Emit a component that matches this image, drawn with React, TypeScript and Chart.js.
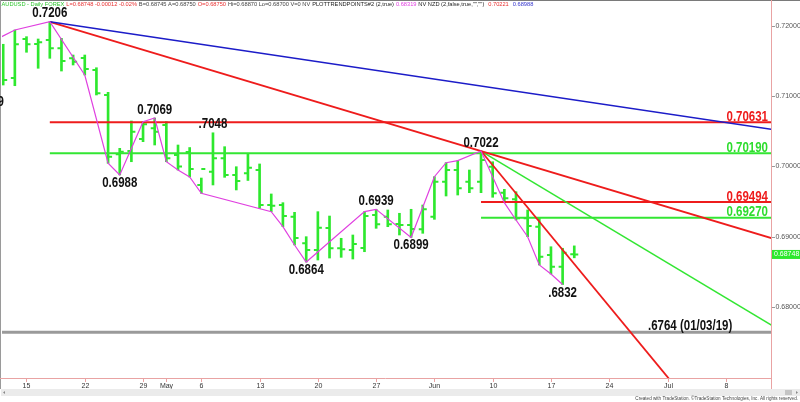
import { useEffect, useRef } from "react";
import { Chart, registerables } from "chart.js";

Chart.register(...registerables);

// trading-day index, 0 = Mon 15 Apr 2019
const barDay = [-2, -1, 0, 1, 2, 3, 4, 5, 6, 7, 8, 9, 10, 11, 12, 13, 14, 15, 16, 17, 18, 19, 20, 21, 22, 23, 24, 25, 26, 27, 28, 29, 30, 31, 32, 33, 34, 35, 36, 37, 38, 39, 40, 41, 42, 43, 44, 45, 46, 47];
const opens = [0.71658, 0.7126, 0.71815, 0.71744, 0.71801, 0.71683, 0.7154, 0.71545, 0.71374, 0.71018, 0.70174, 0.70221, 0.70391, 0.70544, 0.70591, 0.70164, 0.70206, 0.69737, 0.69926, 0.70117, 0.69879, 0.69903, 0.6995, 0.69452, 0.69452, 0.69285, 0.68907, 0.68811, 0.69125, 0.68836, 0.68811, 0.6884, 0.6931, 0.69285, 0.69182, 0.69167, 0.69106, 0.69285, 0.69784, 0.6995, 0.69784, 0.69784, 0.69997, 0.69627, 0.69533, 0.69263, 0.69143, 0.6874, 0.68574, 0.6875];
const highs = [0.7174, 0.71943, 0.71848, 0.71815, 0.7206, 0.71825, 0.71587, 0.71587, 0.71406, 0.71056, 0.70259, 0.70648, 0.70638, 0.7069, 0.70638, 0.70306, 0.7027, 0.69836, 0.7048, 0.70282, 0.69997, 0.70188, 0.70036, 0.69609, 0.69485, 0.69348, 0.69001, 0.69357, 0.69295, 0.68978, 0.69025, 0.69357, 0.6939, 0.69381, 0.69334, 0.69391, 0.69452, 0.69855, 0.70054, 0.70083, 0.6995, 0.7022, 0.70068, 0.69675, 0.69641, 0.69381, 0.69263, 0.68858, 0.68836, 0.6887];
const lows = [0.7116, 0.7115, 0.71626, 0.71398, 0.7154, 0.71359, 0.71445, 0.71302, 0.71018, 0.70046, 0.6988, 0.70068, 0.70353, 0.70306, 0.70068, 0.6995, 0.69851, 0.69619, 0.69737, 0.69846, 0.69666, 0.69801, 0.69405, 0.69357, 0.69143, 0.68883, 0.6864, 0.68669, 0.68697, 0.68707, 0.68683, 0.68787, 0.6912, 0.69143, 0.69025, 0.6899, 0.69049, 0.69248, 0.6958, 0.69594, 0.69627, 0.69627, 0.69562, 0.69485, 0.69238, 0.69001, 0.68598, 0.6847, 0.6832, 0.687];
const closes = [0.71231, 0.7174, 0.7174, 0.71768, 0.71683, 0.71502, 0.71492, 0.71388, 0.71042, 0.7014, 0.70211, 0.70495, 0.70601, 0.70495, 0.70117, 0.7, 0.69964, 0.69964, 0.70117, 0.69879, 0.69794, 0.69983, 0.69452, 0.6944, 0.69295, 0.68982, 0.68811, 0.69129, 0.68836, 0.68821, 0.68897, 0.69295, 0.69177, 0.69177, 0.69167, 0.6911, 0.69391, 0.69784, 0.6995, 0.6969, 0.6969, 0.70093, 0.69619, 0.69547, 0.69263, 0.69153, 0.68716, 0.68574, 0.68773, 0.68748];

// swing-point line (PLOTTRENDPOINTS)
const zigDay = [-4, -1, 2, 5, 7, 8, 10, 11, 12, 13, 14, 15, 21, 22, 23, 24, 29, 30, 33, 34, 35, 36, 37, 39, 41, 42, 43, 44, 45, 46];
const zigVal = [0.7169, 0.71943, 0.7206, 0.71302, 0.70046, 0.6988, 0.70638, 0.7069, 0.70068, 0.6995, 0.69851, 0.69619, 0.69357, 0.69143, 0.68883, 0.6864, 0.69357, 0.6939, 0.6899, 0.6942, 0.69855, 0.70054, 0.70083, 0.7022, 0.69485, 0.69238, 0.69001, 0.68598, 0.6847, 0.6832];

// pivot labels
const pivotText = ["0.7206", "0.7069", "0.6988", ".7048", "0.6864", "0.6939", "0.6899", "0.7022", ".6832", "0.7109"];
const pivotDay = [2, 11, 8, 16, 24, 30, 33, 39, 46, -3.45];
const pivotVal = [0.7206, 0.7069, 0.6988, 0.7048, 0.6864, 0.6939, 0.6899, 0.7022, 0.6832, 0.7103];
const pivotAbove = [true, true, false, true, false, true, false, true, false, false];

// trend lines (start/end day, start/end value)
const trendColor = ["#1c1cc8", "#ee1c1c", "#ee1c1c", "#33e633"];
const trendWidth = [1.5, 1.8, 1.8, 1.5];
const trendDay0 = [2, 2, 39, 39];
const trendVal0 = [0.7206, 0.7206, 0.7022, 0.7022];
const trendDay1 = [64, 64, 57, 64];
const trendVal1 = [0.70527, 0.68977, 0.66602, 0.67733];

// horizontal levels
const levelVal = [0.70631, 0.7019, 0.69494, 0.6927];
const levelText = ["0.70631", "0.70190", "0.69494", "0.69270"];
const levelStart = [2, 2, 39, 39];
const levelColor = ["#ee1c1c", "#33e633", "#ee1c1c", "#33e633"];
const levelTextColor = ["#ee1c1c", "#2edc2e", "#ee1c1c", "#2edc2e"];
const supportVal = 0.6764;
const supportText = ".6764 (01/03/19)";

// axes
const xTickDay = [0, 5, 10, 12, 15, 20, 25, 30, 35, 40, 45, 50, 55, 60];
const xTickText = ["15", "22", "29", "May", "6", "13", "20", "27", "Jun", "10", "17", "24", "Jul", "8"];
const yTickVal = [0.72, 0.71, 0.7, 0.69, 0.68];
const yTickText = ["0.72000", "0.71000", "0.70000", "0.69000", "0.68000"];

const headerText = ["AUDUSD - Daily FOREX", "L=0.68748 -0.00012 -0.02%", "B=0.68745 A=0.68750", "O=0.68750", "Hi=0.68870 Lo=0.68700 V=0 NV", "PLOTTRENDPOINTS#2 (2,true)", "0.68319", "NV NZD (2,false,true,\"\",\"\")", "0.70221", "0.68988"];
const headerColor = ["#2fc62f", "#e83030", "#444444", "#e83030", "#444444", "#222222", "#e040e0", "#222222", "#e83030", "#3333cc"];
const lastPriceText = "0.68748";
const copyrightText = "Created with TradeStation. \u00A9TradeStation Technologies, Inc. All rights reserved.";

const X_MIN = -2.102;
const X_MAX = 63.88;
const Y_MIN = 0.669893;
const Y_MAX = 0.723416;

const BAR_GREEN = "#2ee82e";
const ZIG = "#e040e0";
const PINK = "#e9a3a3";
const SANS = '"Liberation Sans", Arial, sans-serif';

type LF = { font: string; sx: number };

function labelFont(ctx: CanvasRenderingContext2D): LF {
  ctx.save();
  ctx.font = 'bold 14px "Liberation Sans Narrow", monospace';
  const a = ctx.measureText("0123456789").width;
  ctx.font = "bold 14px monospace";
  const b = ctx.measureText("0123456789").width;
  ctx.restore();
  if (Math.abs(a - b) > 0.5) return { font: 'bold 14px "Liberation Sans Narrow"', sx: 1 };
  return { font: "bold 14px " + SANS, sx: 0.82 };
}

function drawLabel(ctx: CanvasRenderingContext2D, f: LF, text: string, x: number, y: number, align: CanvasTextAlign, color: string) {
  ctx.save();
  ctx.font = f.font;
  ctx.fillStyle = color;
  ctx.textAlign = align;
  ctx.textBaseline = "alphabetic";
  ctx.translate(x, y);
  ctx.scale(f.sx, 1);
  ctx.fillText(text, 0, 0);
  ctx.restore();
}

const tsPlugin = {
  id: "tsPlugin",
  beforeDraw(chart: any) {
    const { ctx, width, height } = chart;
    ctx.save();
    ctx.fillStyle = "#ffffff";
    ctx.fillRect(0, 0, width, height);
    ctx.restore();
  },
  afterDatasetDraw(chart: any, args: any) {
    if (args.index !== 0) return;
    const { ctx, chartArea: a } = chart;
    const x = chart.scales.x;
    const y = chart.scales.y;
    ctx.save();
    ctx.beginPath();
    ctx.rect(a.left, a.top, a.right - a.left, a.bottom - a.top);
    ctx.clip();
    ctx.strokeStyle = BAR_GREEN;
    ctx.lineWidth = 2;
    barDay.forEach((d, i) => {
      const px = x.getPixelForValue(d);
      const po = y.getPixelForValue(opens[i]);
      const pc = y.getPixelForValue(closes[i]);
      ctx.beginPath();
      ctx.moveTo(px - 4, po);
      ctx.lineTo(px, po);
      ctx.moveTo(px, pc);
      ctx.lineTo(px + 4, pc);
      ctx.stroke();
    });
    ctx.restore();
  },
  afterDraw(chart: any) {
    const { ctx, chartArea: a } = chart;
    const x = chart.scales.x;
    const y = chart.scales.y;
    const f = labelFont(ctx);

    // frame
    ctx.save();
    ctx.lineWidth = 1;
    ctx.strokeStyle = "#7a7a7a";
    ctx.beginPath();
    ctx.moveTo(0, 0.5);
    ctx.lineTo(800, 0.5);
    ctx.stroke();
    ctx.strokeStyle = "#9a9a9a";
    ctx.beginPath();
    ctx.moveTo(0.5, 0);
    ctx.lineTo(0.5, 389);
    ctx.stroke();
    ctx.strokeStyle = PINK;
    ctx.beginPath();
    ctx.moveTo(0, 378.5);
    ctx.lineTo(Math.round(a.right), 378.5);
    ctx.moveTo(Math.round(a.right) + 0.5, 0);
    ctx.lineTo(Math.round(a.right) + 0.5, 389);
    ctx.stroke();

    // x ticks
    ctx.font = "7px " + SANS;
    ctx.textAlign = "center";
    ctx.textBaseline = "middle";
    xTickDay.forEach((d, i) => {
      const px = Math.round(x.getPixelForValue(d)) + 0.5;
      ctx.strokeStyle = PINK;
      ctx.beginPath();
      ctx.moveTo(px, 379);
      ctx.lineTo(px, 382);
      ctx.stroke();
      ctx.fillStyle = "#333333";
      ctx.fillText(xTickText[i], px, 386);
    });

    // y ticks
    ctx.textAlign = "left";
    yTickVal.forEach((v, i) => {
      const py = y.getPixelForValue(v);
      ctx.strokeStyle = "#999999";
      ctx.beginPath();
      ctx.moveTo(772, Math.round(py) + 0.5);
      ctx.lineTo(775, Math.round(py) + 0.5);
      ctx.stroke();
      ctx.fillStyle = "#555555";
      ctx.fillText(yTickText[i], 775.5, py);
    });

    // last price box
    const lp = y.getPixelForValue(closes[closes.length - 1]);
    ctx.fillStyle = "#2ee82e";
    ctx.fillRect(772, lp - 4.5, 28, 9);
    ctx.fillStyle = "#ffffff";
    ctx.fillText(lastPriceText, 774, lp);

    // scrollbar band
    ctx.fillStyle = "#ebebeb";
    ctx.fillRect(1, 389, 799, 7);
    ctx.fillStyle = "#888888";
    ctx.beginPath();
    ctx.moveTo(3, 392.5);
    ctx.lineTo(5, 391);
    ctx.lineTo(5, 394);
    ctx.fill();
    ctx.fillStyle = "#c4c4c4";
    ctx.fillRect(785, 390, 7, 5);
    ctx.fillStyle = "#888888";
    ctx.beginPath();
    ctx.moveTo(798, 392.5);
    ctx.lineTo(796, 391);
    ctx.lineTo(796, 394);
    ctx.fill();

    // copyright
    ctx.font = "4.6px " + SANS;
    ctx.textAlign = "right";
    ctx.fillStyle = "#444444";
    ctx.fillText(copyrightText, 798, 398.8);

    // header
    ctx.font = "5.7px " + SANS;
    ctx.textAlign = "left";
    let hx = 1.5;
    const sp = ctx.measureText(" ").width;
    headerText.forEach((t, i) => {
      ctx.fillStyle = headerColor[i];
      ctx.fillText(t, hx, 4.8);
      hx += ctx.measureText(t).width + sp * (i === 7 || i === 8 ? 2.5 : 1.2);
    });
    ctx.restore();

    // pivot labels
    ctx.save();
    ctx.beginPath();
    ctx.rect(0, 0, a.right, a.bottom);
    ctx.clip();
    pivotText.forEach((t, i) => {
      const px = x.getPixelForValue(pivotDay[i]);
      const py = y.getPixelForValue(pivotVal[i]);
      drawLabel(ctx, f, t, px, pivotAbove[i] ? py - 4.5 : py + 12, "center", "#111111");
    });
    // level labels
    levelVal.forEach((v, i) => {
      const py = y.getPixelForValue(v);
      drawLabel(ctx, f, levelText[i], a.right - 3, py - 1.5, "right", levelTextColor[i]);
    });
    const sy = y.getPixelForValue(supportVal);
    drawLabel(ctx, f, supportText, 648, sy - 1.8, "left", "#111111");
    ctx.restore();
  },
};

export default function App() {
  const ref = useRef<HTMLCanvasElement>(null);
  useEffect(() => {
    const canvas = ref.current;
    if (!canvas) return;
    const datasets: any[] = [];
    datasets.push({
      type: "bar",
      data: barDay.map((d, i) => ({ x: d, y: [lows[i], highs[i]] })),
      backgroundColor: BAR_GREEN,
      borderWidth: 0,
      barThickness: 2,
      grouped: false,
      order: 10,
      clip: 0,
    });
    datasets.push({
      type: "line",
      data: [
        { x: -4, y: supportVal },
        { x: 64, y: supportVal },
      ],
      borderColor: "#9a9a9a",
      borderWidth: 3,
      pointRadius: 0,
      order: 6,
      clip: 0,
    });
    levelVal.forEach((v, i) => {
      datasets.push({
        type: "line",
        data: [
          { x: levelStart[i], y: v },
          { x: 64, y: v },
        ],
        borderColor: levelColor[i],
        borderWidth: 2,
        pointRadius: 0,
        order: 5,
        clip: 0,
      });
    });
    trendColor.forEach((c, i) => {
      datasets.push({
        type: "line",
        data: [
          { x: trendDay0[i], y: trendVal0[i] },
          { x: trendDay1[i], y: trendVal1[i] },
        ],
        borderColor: c,
        borderWidth: trendWidth[i],
        pointRadius: 0,
        order: 4,
        clip: 0,
      });
    });
    datasets.push({
      type: "line",
      data: zigDay.map((d, i) => ({ x: d, y: zigVal[i] })),
      borderColor: ZIG,
      borderWidth: 1.2,
      pointRadius: 0,
      tension: 0,
      order: 1,
      clip: 0,
    });

    const chart = new Chart(canvas, {
      type: "line",
      data: { datasets },
      options: {
        responsive: false,
        animation: false,
        devicePixelRatio: 1,
        events: [],
        layout: { padding: { left: 2, top: 2, right: 29, bottom: 24 } },
        plugins: { legend: { display: false }, tooltip: { enabled: false } },
        scales: {
          x: { type: "linear", display: false, min: X_MIN, max: X_MAX, offset: false },
          y: { type: "linear", display: false, min: Y_MIN, max: Y_MAX },
        },
      } as any,
      plugins: [tsPlugin as any],
    });
    return () => chart.destroy();
  }, []);
  return (
    <div style={{ position: "fixed", left: 0, top: 0, width: 800, height: 402, background: "#ffffff" }}>
      <canvas ref={ref} width={800} height={402} style={{ display: "block", width: 800, height: 402 }} />
    </div>
  );
}
